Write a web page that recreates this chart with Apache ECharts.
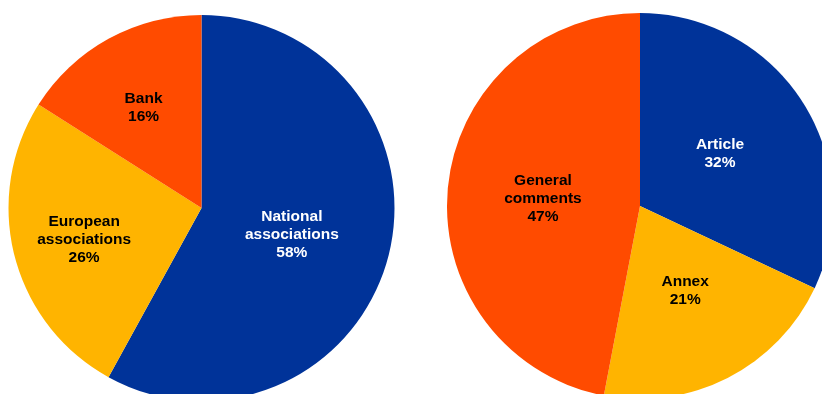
<!DOCTYPE html>
<html>
<head>
<meta charset="utf-8">
<script src="https://cdn.jsdelivr.net/npm/echarts@6/dist/echarts.min.js"></script>
<style>
  html, body { margin: 0; padding: 0; background: #fff; }
  #chart { width: 822px; height: 394px; }
</style>
</head>
<body>
<div id="chart"></div>
<script>
// left pie: who responded
var leftNames = ['National\nassociations', 'European\nassociations', 'Bank'];
var leftValues = [58, 26, 16];

// right pie: what the comments were about
var rightNames = ['Article', 'Annex', 'General\ncomments'];
var rightValues = [32, 21, 47];

var blue = '#003399';
var yellow = '#ffb400';
var orange = '#ff4b00';

var leftColors = [blue, yellow, orange];
var rightColors = [blue, yellow, orange];
// label nudges so the text sits where the original put it
var leftOffsets = [[-6, 2], [-21, 7], [-10, -13]];
var rightOffsets = [[-4, 1], [0, -4], [2, 2]];

function buildData(names, values, colors, offsets) {
    var res = [];
    for (var i = 0; i < names.length; i++) {
        res.push({
            name: names[i],
            value: values[i],
            itemStyle: { color: colors[i] },
            label: {
                color: colors[i] === blue ? '#fff' : '#000',
                offset: offsets[i]
            }
        });
    }
    return res;
}

var labelStyle = {
    show: true,
    position: 'inside',
    formatter: '{b}\n{c}%',
    fontFamily: 'Liberation Sans, Arial, sans-serif',
    fontWeight: 'bold',
    fontSize: 15.5,
    lineHeight: 18
};

var chart = echarts.init(document.getElementById('chart'));

var option = {
    backgroundColor: '#fff',
    animation: false,
    series: [
        {
            type: 'pie',
            center: [201.5, 208],
            radius: 193,
            startAngle: 90,
            clockwise: true,
            label: labelStyle,
            labelLine: { show: false },
            itemStyle: { borderWidth: 0 },
            emphasis: { disabled: true },
            data: buildData(leftNames, leftValues, leftColors, leftOffsets)
        },
        {
            type: 'pie',
            center: [640, 206],
            radius: 193,
            startAngle: 90,
            clockwise: true,
            label: labelStyle,
            labelLine: { show: false },
            itemStyle: { borderWidth: 0 },
            emphasis: { disabled: true },
            data: buildData(rightNames, rightValues, rightColors, rightOffsets)
        }
    ]
};

chart.setOption(option);
</script>
</body>
</html>
